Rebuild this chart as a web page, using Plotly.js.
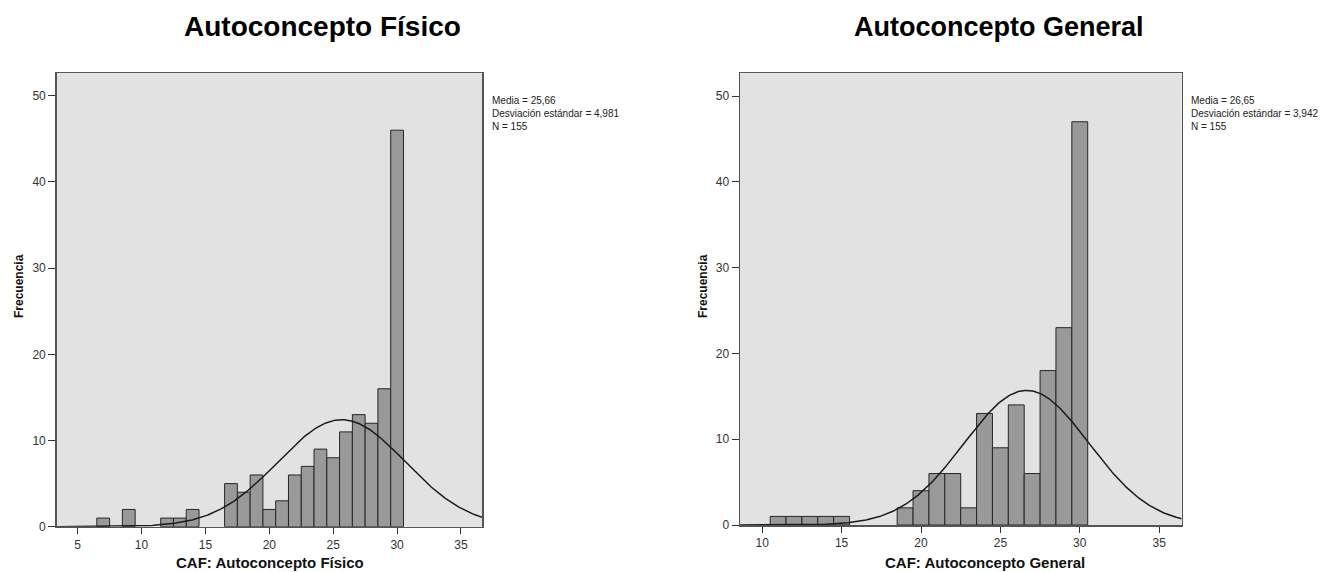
<!DOCTYPE html>
<html>
<head>
<meta charset="utf-8">
<script src="https://cdn.plot.ly/plotly-3.0.1.min.js"></script>
<style>
  html, body { margin: 0; padding: 0; background: #ffffff; }
  #chart { width: 1340px; height: 572px; }
</style>
</head>
<body>
<div id="chart"></div>
<script>
// ---- Data: Autoconcepto Físico (left) ----
const fisicoBins   = [7, 9, 12, 13, 14, 17, 18, 19, 20, 21, 22, 23, 24, 25, 26, 27, 28, 29, 30];
const fisicoCounts = [1, 2, 1, 1, 2, 5, 4, 6, 2, 3, 6, 7, 9, 8, 11, 13, 12, 16, 46];
const fisicoMean = 25.66;
const fisicoSD = 4.981;
const fisicoN = 155;
const fisicoStats = ["Media = 25,66", "Desviación estándar = 4,981", "N = 155"];

// ---- Data: Autoconcepto General (right) ----
const generalBins   = [11, 12, 13, 14, 15, 19, 20, 21, 22, 23, 24, 25, 26, 27, 28, 29, 30];
const generalCounts = [1, 1, 1, 1, 1, 2, 4, 6, 6, 2, 13, 9, 14, 6, 18, 23, 47];
const generalMean = 26.65;
const generalSD = 3.942;
const generalN = 155;
const generalStats = ["Media = 26,65", "Desviación estándar = 3,942", "N = 155"];

// ---- Labels ----
const titles = ["Autoconcepto Físico", "Autoconcepto General"];
const xTitles = ["CAF: Autoconcepto Físico", "CAF: Autoconcepto General"];
const yTitle = "Frecuencia";
const xTicks = [5, 10, 15, 20, 25, 30, 35];
const yTicks = [0, 10, 20, 30, 40, 50];
const binWidth = 1;

// Normal curve scaled to counts (from displayed mean, SD and N)
function normalCurve(mean, sd, n, lo, hi) {
  const xs = [], ys = [];
  for (let i = 0; i <= 400; i++) {
    const x = lo + (hi - lo) * i / 400;
    const z = (x - mean) / sd;
    xs.push(x);
    ys.push(n * binWidth * Math.exp(-0.5 * z * z) / (sd * Math.sqrt(2 * Math.PI)));
  }
  return {xs, ys};
}

const leftRange = [3.36, 36.67];
const rightRange = [8.6, 36.42];
const cL = normalCurve(fisicoMean, fisicoSD, fisicoN, leftRange[0], leftRange[1]);
const cR = normalCurve(generalMean, generalSD, generalN, rightRange[0], rightRange[1]);

const barStyle = {color: '#999999', line: {color: '#262626', width: 1}};
const lineStyle = {color: '#1a1a1a', width: 1.5};

const traces = [
  {type: 'bar', x: fisicoBins, y: fisicoCounts, width: binWidth, marker: barStyle,
   xaxis: 'x', yaxis: 'y', hoverinfo: 'x+y'},
  {type: 'scatter', mode: 'lines', x: cL.xs, y: cL.ys, line: lineStyle,
   xaxis: 'x', yaxis: 'y', hoverinfo: 'skip'},
  {type: 'bar', x: generalBins, y: generalCounts, width: binWidth, marker: barStyle,
   xaxis: 'x2', yaxis: 'y2', hoverinfo: 'x+y'},
  {type: 'scatter', mode: 'lines', x: cR.xs, y: cR.ys, line: lineStyle,
   xaxis: 'x2', yaxis: 'y2', hoverinfo: 'skip'}
];

const W = 1340, H = 572;
const px = v => v / W;
const py = v => (H - v) / H;

const tickFont = {family: 'Liberation Sans, Arial, sans-serif', size: 12, color: '#333333'};
function xAxis(domain, range, anchor) {
  return {domain, range, anchor, tickvals: xTicks, ticks: 'outside', ticklen: 6, tickwidth: 1,
    tickcolor: '#333', showline: true, mirror: true, linecolor: '#555', linewidth: 1.5,
    showgrid: false, zeroline: false, tickfont: tickFont, fixedrange: true};
}
function yAxis(domain, range, anchor) {
  return {domain, range, anchor, tickvals: yTicks, ticks: 'outside', ticklen: 7, tickwidth: 1,
    tickcolor: '#333', showline: true, mirror: true, linecolor: '#555', linewidth: 1.5,
    showgrid: false, zeroline: false, tickfont: tickFont, fixedrange: true};
}

const annFont = 'Liberation Sans, Arial, sans-serif';
const annotations = [
  {text: '<b>' + titles[0] + '</b>', x: px(322), y: py(27), xref: 'paper', yref: 'paper',
   xanchor: 'center', yanchor: 'middle', showarrow: false, font: {family: annFont, size: 28, color: '#000'}},
  {text: '<b>' + titles[1] + '</b>', x: px(999), y: py(27), xref: 'paper', yref: 'paper',
   xanchor: 'center', yanchor: 'middle', showarrow: false, font: {family: annFont, size: 27, color: '#000'}},
  {text: '<b>' + xTitles[0] + '</b>', x: px(270), y: py(562), xref: 'paper', yref: 'paper',
   xanchor: 'center', yanchor: 'middle', showarrow: false, font: {family: annFont, size: 15, color: '#111'}},
  {text: '<b>' + xTitles[1] + '</b>', x: px(985), y: py(562), xref: 'paper', yref: 'paper',
   xanchor: 'center', yanchor: 'middle', showarrow: false, font: {family: annFont, size: 15, color: '#111'}},
  {text: '<b>' + yTitle + '</b>', x: px(19), y: py(286), xref: 'paper', yref: 'paper', textangle: -90,
   xanchor: 'center', yanchor: 'middle', showarrow: false, font: {family: annFont, size: 12, color: '#111'}},
  {text: '<b>' + yTitle + '</b>', x: px(703), y: py(286), xref: 'paper', yref: 'paper', textangle: -90,
   xanchor: 'center', yanchor: 'middle', showarrow: false, font: {family: annFont, size: 12, color: '#111'}},
  {text: fisicoStats.join('<br>'), x: px(490), y: py(93), xref: 'paper', yref: 'paper',
   xanchor: 'left', yanchor: 'top', align: 'left', showarrow: false,
   font: {family: annFont, size: 10, color: '#222'}},
  {text: generalStats.join('<br>'), x: px(1189), y: py(93), xref: 'paper', yref: 'paper',
   xanchor: 'left', yanchor: 'top', align: 'left', showarrow: false,
   font: {family: annFont, size: 10, color: '#222'}}
];

const layout = {
  width: W, height: H,
  margin: {l: 0, r: 0, t: 0, b: 0},
  paper_bgcolor: '#ffffff',
  plot_bgcolor: '#e2e2e2',
  showlegend: false,
  barmode: 'overlay',
  xaxis: xAxis([px(56.7), px(482.3)], leftRange, 'y'),
  yaxis: yAxis([py(526.7), py(73.3)], [0, 52.6], 'x'),
  xaxis2: xAxis([px(740), px(1181.7)], rightRange, 'y2'),
  yaxis2: yAxis([py(525), py(73.3)], [0, 52.65], 'x2'),
  annotations
};

Plotly.newPlot('chart', traces, layout, {displayModeBar: false, staticPlot: true});
</script>
</body>
</html>
